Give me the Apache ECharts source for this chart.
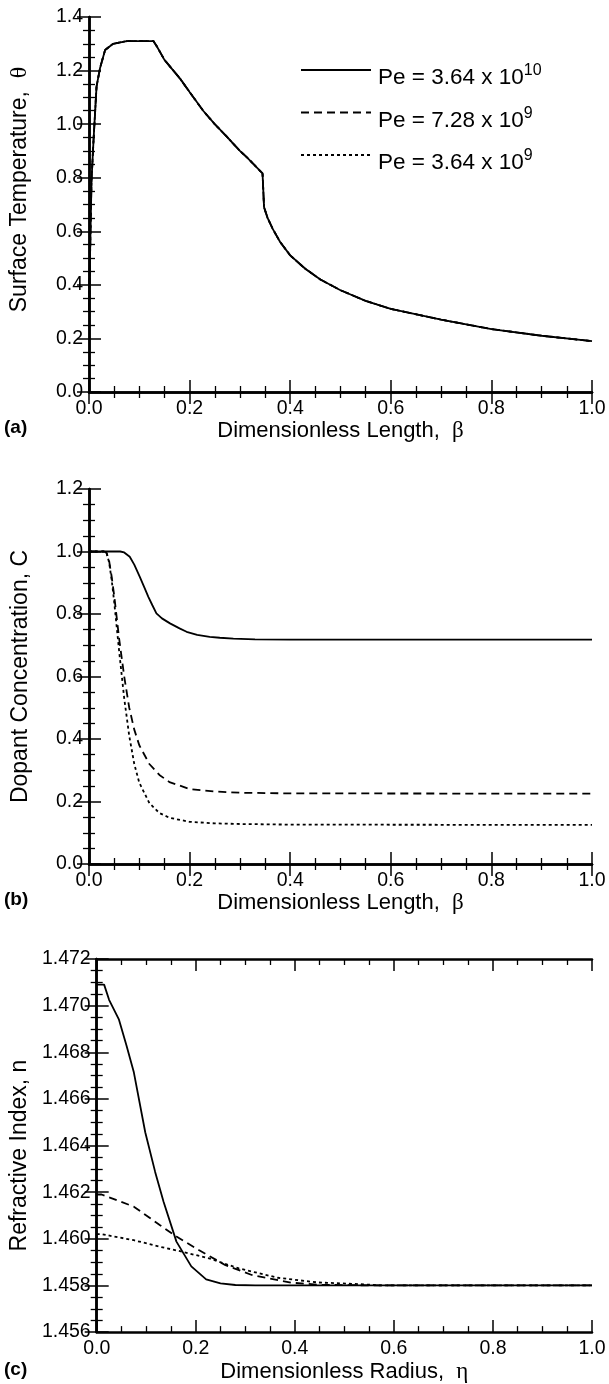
<!DOCTYPE html>
<html><head><meta charset="utf-8">
<script src="https://cdn.jsdelivr.net/npm/echarts@6/dist/echarts.min.js"></script>
<style>html,body{margin:0;padding:0;background:#fff}#c{width:609px;height:1384px}</style>
</head><body><div id="c"></div>
<script>
// ---- data ----
const seriesNames = ['Pe = 3.64 x 10^10', 'Pe = 7.28 x 10^9', 'Pe = 3.64 x 10^9'];
const legendBase = ['Pe = 3.64 x 10', 'Pe = 7.28 x 10', 'Pe = 3.64 x 10'];
const legendExp = ['10', '9', '9'];
const panelLabels = ['(a)', '(b)', '(c)'];
const xTitles = ['Dimensionless Length,  ', 'Dimensionless Length,  ', 'Dimensionless Radius,  '];
const xGreek = ['β', 'β', 'η'];
const yTitles = ['Surface Temperature,  ', 'Dopant Concentration, C', 'Refractive Index, n'];
const yGreek = ['θ', '', ''];
const xTicks = [0, 0.2, 0.4, 0.6, 0.8, 1.0];
const yTicksA = [0, 0.2, 0.4, 0.6, 0.8, 1.0, 1.2, 1.4];
const yTicksB = [0, 0.2, 0.4, 0.6, 0.8, 1.0, 1.2];
const yTicksC = [1.456, 1.458, 1.460, 1.462, 1.464, 1.466, 1.468, 1.470, 1.472];

// (a) surface temperature vs beta (all three Pe coincide)
const betaA = [0, 0.002, 0.005, 0.009, 0.015, 0.022, 0.032, 0.048, 0.075, 0.1, 0.128, 0.135, 0.15, 0.181, 0.2, 0.227, 0.25, 0.274, 0.3, 0.313, 0.345, 0.348, 0.355, 0.365, 0.38, 0.4, 0.43, 0.46, 0.5, 0.55, 0.6, 0.7, 0.8, 0.9, 1.0];
const thetaA = [0.3, 0.5, 0.79, 0.94, 1.14, 1.21, 1.277, 1.30, 1.31, 1.31, 1.31, 1.29, 1.24, 1.17, 1.12, 1.05, 1.0, 0.953, 0.9, 0.878, 0.816, 0.69, 0.65, 0.61, 0.56, 0.51, 0.46, 0.42, 0.38, 0.34, 0.31, 0.27, 0.235, 0.21, 0.19];

// (b) dopant concentration vs beta
const betaB1 = [0, 0.062, 0.07, 0.081, 0.09, 0.101, 0.11, 0.118, 0.126, 0.134, 0.145, 0.161, 0.18, 0.194, 0.215, 0.24, 0.26, 0.287, 0.33, 0.4, 1.0];
const concB1 = [1.0, 1.0, 0.997, 0.983, 0.958, 0.919, 0.885, 0.855, 0.828, 0.802, 0.786, 0.77, 0.754, 0.743, 0.733, 0.727, 0.724, 0.721, 0.719, 0.718, 0.718];
const betaB2 = [0, 0.03, 0.035, 0.04, 0.045, 0.05, 0.055, 0.06, 0.07, 0.08, 0.09, 0.1, 0.12, 0.14, 0.16, 0.2, 0.25, 0.3, 0.4, 1.0];
const concB2 = [1.0, 1.0, 0.995, 0.97, 0.92, 0.86, 0.79, 0.72, 0.6, 0.5, 0.43, 0.38, 0.32, 0.285, 0.262, 0.24, 0.232, 0.228, 0.226, 0.225];
const betaB3 = [0, 0.03, 0.035, 0.04, 0.045, 0.05, 0.055, 0.06, 0.07, 0.08, 0.09, 0.1, 0.12, 0.14, 0.16, 0.2, 0.25, 0.3, 0.4, 1.0];
const concB3 = [1.0, 1.0, 0.995, 0.965, 0.91, 0.84, 0.76, 0.68, 0.53, 0.41, 0.32, 0.26, 0.195, 0.163, 0.148, 0.135, 0.13, 0.128, 0.126, 0.125];

// (c) refractive index vs eta
const etaC1 = [0, 0.015, 0.025, 0.045, 0.06, 0.075, 0.098, 0.118, 0.135, 0.161, 0.191, 0.221, 0.25, 0.28, 0.32, 1.0];
const nC1 = [1.4709, 1.4709, 1.47025, 1.4694, 1.4683, 1.46714, 1.46457, 1.46287, 1.46159, 1.45988, 1.45882, 1.45826, 1.45809, 1.45802, 1.4580, 1.4580];
const etaC2 = [0, 0.01, 0.075, 0.128, 0.161, 0.207, 0.26, 0.313, 0.393, 0.45, 0.57, 1.0];
const nC2 = [1.4619, 1.4619, 1.46138, 1.46058, 1.4601, 1.45951, 1.45887, 1.45845, 1.45812, 1.45803, 1.4580, 1.4580];
const etaC3 = [0, 0.01, 0.075, 0.128, 0.174, 0.227, 0.287, 0.366, 0.446, 0.539, 0.57, 1.0];
const nC3 = [1.4602, 1.4602, 1.45994, 1.45966, 1.45944, 1.45916, 1.45873, 1.45833, 1.45813, 1.45805, 1.4580, 1.4580];

// ---- chart ----
const zip = (xs, ys) => xs.map((x, i) => [x, ys[i]]);
const FONT = 'Liberation Sans, Arial, sans-serif';
const GREEK = 'Liberation Serif, serif';
const tops = [17, 489, 959];
const gridH = 375;
const yRanges = [[0, 1.4, 0.2, 1], [0, 1.2, 0.2, 1], [1.456, 1.472, 0.002, 3]];
const dashTypes = ['solid', [8, 5], [3, 3]];
const yNameGap = [57, 57, 57];
const yNamePad = [[0, 0, 0, 30], [0, 0, 0, 0], [0, 20, 0, 0]];

const grids = [], xAxes = [], yAxes = [], series = [];
const axisLine = { show: true, lineStyle: { color: '#000', width: 2.5 } };
const axisTick = { show: true, inside: true, length: 12, lineStyle: { color: '#000', width: 1.5 } };
const minorTick = { show: true, splitNumber: 4, length: 6, lineStyle: { color: '#000', width: 1.3 } };
const titleRich = { t: { fontSize: 22, fontFamily: FONT, color: '#000' }, g: { fontSize: 23, fontFamily: GREEK, color: '#000' } };
const yTitleRich = { t: { fontSize: 23, fontFamily: FONT, color: '#000' }, g: { fontSize: 24, fontFamily: GREEK, color: '#000' } };

for (let p = 0; p < 3; p++) {
  grids.push({ left: 89, top: tops[p], width: 503, height: gridH, containLabel: false });
  const [ymin, ymax, yint, yd] = yRanges[p];
  xAxes.push({
    gridIndex: p, type: 'value', position: 'bottom', min: 0, max: 1, interval: 0.2,
    axisLine, axisTick, minorTick, splitLine: { show: false },
    axisLabel: { color: '#000', fontSize: 19.5, fontFamily: FONT, margin: 7, formatter: v => v.toFixed(1) },
    name: '{t|' + xTitles[p] + '}{g|' + xGreek[p] + '}', nameLocation: 'middle', nameGap: 26,
    nameTextStyle: { rich: titleRich }
  });
  xAxes.push({
    gridIndex: p, type: 'value', position: 'top', min: 0, max: 1, interval: 0.2,
    axisLine, axisTick, minorTick, splitLine: { show: false }, axisLabel: { show: false }
  });
  yAxes.push({
    gridIndex: p, type: 'value', position: 'left', min: ymin, max: ymax, interval: yint,
    axisLine, axisTick, minorTick, splitLine: { show: false },
    axisLabel: { color: '#000', fontSize: 19.5, fontFamily: FONT, margin: 6, formatter: v => v.toFixed(yd) },
    name: yGreek[p] ? '{t|' + yTitles[p] + '}{g|' + yGreek[p] + '}' : '{t|' + yTitles[p] + '}',
    nameLocation: 'middle', nameGap: yNameGap[p],
    nameTextStyle: { padding: yNamePad[p], rich: yTitleRich }
  });
  yAxes.push({
    gridIndex: p, type: 'value', position: 'right', min: ymin, max: ymax, interval: yint,
    axisLine, axisTick, minorTick, splitLine: { show: false }, axisLabel: { show: false }
  });
}

const panelData = [
  [zip(betaA, thetaA), zip(betaA, thetaA), zip(betaA, thetaA)],
  [zip(betaB1, concB1), zip(betaB2, concB2), zip(betaB3, concB3)],
  [zip(etaC1, nC1), zip(etaC2, nC2), zip(etaC3, nC3)]
];
for (let p = 0; p < 3; p++) {
  for (let s = 0; s < 3; s++) {
    series.push({
      type: 'line', name: seriesNames[s], xAxisIndex: 2 * p, yAxisIndex: 2 * p,
      data: panelData[p][s], symbol: 'none', showSymbol: false, smooth: false,
      itemStyle: { color: '#000' },
      lineStyle: { color: '#000', width: 1.8, type: dashTypes[s] }, z: 10 - s
    });
  }
}

const chart = echarts.init(document.getElementById('c'), null, { renderer: 'canvas' });
chart.setOption({
  animation: false,
  backgroundColor: '#fff',
  grid: grids, xAxis: xAxes, yAxis: yAxes, series,
  legend: {
    data: seriesNames, left: 295, top: 58, orient: 'vertical', itemWidth: 70, itemHeight: 14, itemGap: 16,
    selectedMode: false,
    itemStyle: { opacity: 0, borderWidth: 0 },
    lineStyle: { width: 2 },
    formatter: n => { const i = seriesNames.indexOf(n); return '{b|' + legendBase[i] + '}{s|' + legendExp[i] + '}'; },
    textStyle: { color: '#000', padding: [16, 0, 0, 2], rich: {
      b: { fontSize: 22.5, fontFamily: FONT, color: '#000', lineHeight: 30 },
      s: { fontSize: 16, fontFamily: FONT, color: '#000', lineHeight: 12, verticalAlign: 'top' }
    } }
  },
  graphic: panelLabels.map((t, p) => ({
    type: 'text', left: 4, top: tops[p] + gridH + 26,
    style: { text: t, font: 'bold 19px ' + FONT, fill: '#000' }
  }))
});
</script></body></html>
